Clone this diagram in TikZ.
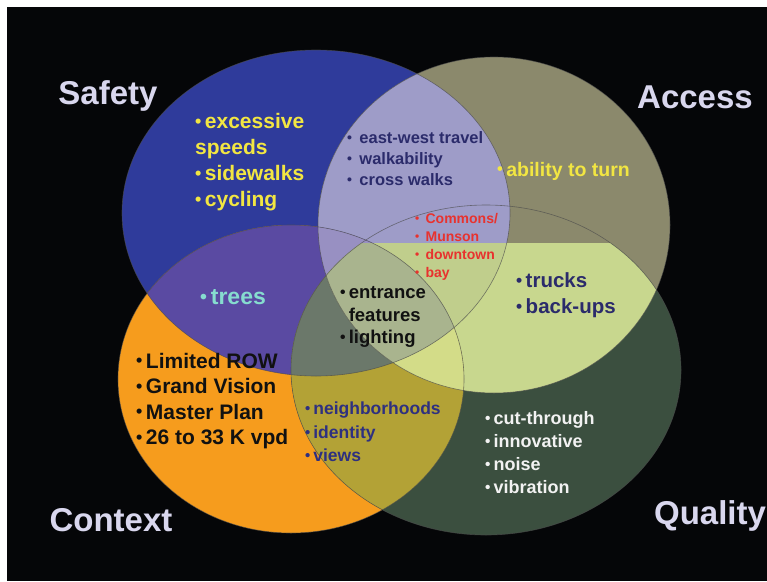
\documentclass[tikz,border=0pt]{standalone}
\usepackage{fontspec}
\setmainfont{Liberation Sans}
\usetikzlibrary{positioning}

\definecolor{slideblack}{HTML}{050608}
\definecolor{safetyblue}{HTML}{2F3B9B}
\definecolor{accesstan}{HTML}{8B896C}
\definecolor{contextorange}{HTML}{F69C1D}
\definecolor{qualitygreen}{HTML}{3B4F3F}
\definecolor{lavender}{HTML}{9E9CC8}
\definecolor{lavpurple}{HTML}{9890C2}
\definecolor{treepurple}{HTML}{5A4AA2}
\definecolor{lightgreen}{HTML}{C8D78E}
\definecolor{mustard}{HTML}{B3A236}
\definecolor{greygreen}{HTML}{6B786A}
\definecolor{sagelight}{HTML}{C0CE8C}
\definecolor{sage}{HTML}{A9B48E}
\definecolor{yellowgreen}{HTML}{D3DC88}
\definecolor{titlecol}{HTML}{D9D7EE}
\definecolor{txtyellow}{HTML}{F2E642}
\definecolor{txtnavy}{HTML}{2B2B6B}
\definecolor{txtblue}{HTML}{2E3080}
\definecolor{txtred}{HTML}{E8322E}
\definecolor{txtcyan}{HTML}{86DCCF}
\definecolor{txtblack}{HTML}{111111}
\definecolor{txtwhite}{HTML}{F2F2F2}

% the four circles of the slide
\newcommand{\safetycirc}{(316,213) ellipse [x radius=194, y radius=163]}
\newcommand{\accesscirc}{(494,225) ellipse [x radius=176, y radius=168]}
\newcommand{\contextcirc}{(291,379) ellipse [x radius=173, y radius=154]}
\newcommand{\qualitycirc}{(486,370) ellipse [x radius=195, y radius=165]}
\newcommand{\qualitycut}{\clip (0,243) rectangle (767,581); \clip \qualitycirc;}
% small bullet
\newcommand{\bul}{\raisebox{0.06em}{\scalebox{0.85}{•}}\,}

\begin{document}
\begin{tikzpicture}[x=1pt, y=-1pt,
    rim/.style={draw=gray!60!black, line width=0.6pt, opacity=0.7},
    title/.style={font=\bfseries\fontsize{33}{33}\selectfont, text=titlecol, inner sep=0pt},
    bullets/.style={anchor=west, align=left, inner sep=0pt, font=\bfseries}]

        % white margin and black slide
        \useasboundingbox (0,0) rectangle (767,581);
        \fill[white] (0,0) rectangle (767,581);
        \fill[slideblack] (7,7) rectangle (767,581);

        % single circles
        \fill[safetyblue] \safetycirc;
        \fill[accesstan] \accesscirc;
        \fill[contextorange] \contextcirc;
        \begin{scope} \qualitycut \fill[qualitygreen] (0,0) rectangle (767,581); \end{scope}

        % overlaps of two
        \begin{scope} \clip \safetycirc; \fill[lavender] \accesscirc; \fill[treepurple] \contextcirc; \end{scope}
        \begin{scope} \qualitycut
                \fill[greygreen] \safetycirc; \fill[lightgreen] \accesscirc; \fill[mustard] \contextcirc;
        \end{scope}

        % overlaps of three and four
        \begin{scope} \clip \safetycirc; \clip \accesscirc; \fill[lavpurple] \contextcirc; \end{scope}
        \begin{scope} \qualitycut \clip \safetycirc; \fill[sagelight] \accesscirc; \fill[greygreen] \contextcirc; \end{scope}
        \begin{scope} \qualitycut \clip \accesscirc; \fill[yellowgreen] \contextcirc; \end{scope}
        \begin{scope} \qualitycut \clip \safetycirc; \clip \accesscirc; \fill[sage] \contextcirc; \end{scope}

        % thin rims
        \draw[rim] \safetycirc;
        \draw[rim] \accesscirc;
        \draw[rim] \contextcirc;
        \draw[rim] \qualitycirc;

        % titles
        \foreach \t/\x/\y in {Safety/108/96, Access/695/97, Context/111/520, Quality/710/516}
                \node[title] (\t) at (\x,\y) {\t};

        % lists
        \node[bullets, text=txtyellow, font=\bfseries\fontsize{21}{26}\selectfont] (speeds) at (195,162)
                {\bul excessive\\speeds\\\bul sidewalks\\\bul cycling};
        \node[bullets, text=txtnavy, font=\bfseries\fontsize{16.5}{21}\selectfont] (walks) at (347,159)
                {\bul{} east-west travel\\\bul{} walkability\\\bul{} cross walks};
        \node[bullets, text=txtyellow, font=\bfseries\fontsize{19.5}{24}\selectfont] (turn) at (497,171)
                {\bul ability to turn};
        \node[bullets, text=txtred, font=\bfseries\fontsize{14}{18}\selectfont] (downtown) at (415,247)
                {\bul{} Commons/\\\bul{} Munson\\\bul{} downtown\\\bul{} bay};
        \node[bullets, text=txtnavy, font=\bfseries\fontsize{20.5}{26}\selectfont] (trucks) at (516,295)
                {\bul trucks\\\bul back-ups};
        \node[bullets, text=txtcyan, font=\bfseries\fontsize{23}{26}\selectfont] (trees) at (200,297)
                {\bul trees};
        \node[bullets, text=txtblack, font=\bfseries\fontsize{18.5}{22.5}\selectfont] (entrance) at (340,317)
                {\bul entrance\\\phantom{\bul}features\\\bul lighting};
        \node[bullets, text=txtblack, font=\bfseries\fontsize{21}{25.5}\selectfont] (plan) at (136,401)
                {\bul Limited ROW\\\bul Grand Vision\\\bul Master Plan\\\bul 26 to 33 K vpd};
        \node[bullets, text=txtblue, font=\bfseries\fontsize{17.5}{23.5}\selectfont] (views) at (305,432)
                {\bul neighborhoods\\\bul identity\\\bul views};
        \node[bullets, text=txtwhite, font=\bfseries\fontsize{18}{23}\selectfont] (noise) at (485,453)
                {\bul cut-through\\\bul innovative\\\bul noise\\\bul vibration};

\end{tikzpicture}
\end{document}
